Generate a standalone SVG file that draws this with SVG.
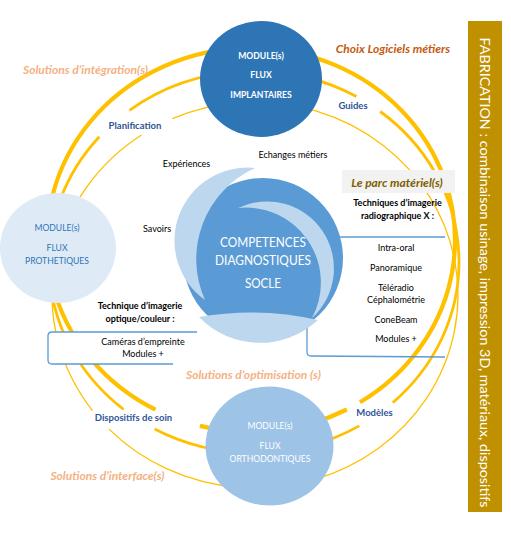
<svg xmlns="http://www.w3.org/2000/svg" width="511" height="540" viewBox="0 0 511 540">
<style>
text{font-family:Lato,"Liberation Sans",sans-serif;text-anchor:middle}
.arc{fill:none;stroke:#FFC000}
.a1{stroke-width:4.2}
.a2{stroke-width:2.8}
.a3{stroke-width:1.3}
.brk{stroke:#5B9BD5;stroke-width:1.3}
.blk{font-size:9px;fill:#000}
.bb{font-size:9px;fill:#000;font-weight:bold}
.lab{font-size:9.5px;fill:#2F5597;font-weight:bold}
.sol{font-size:12px;fill:#F4B183;font-weight:bold;font-style:italic}
.mw{font-size:8.6px;fill:#fff;font-weight:bold}
.mb{font-size:8.6px;fill:#2E75B6}
.mo{font-size:8.6px;fill:#fff}
.ctr{font-size:14px;fill:#fff}
.light{fill:#BDD7EE}
</style>
<g id="connectors">
<path class="arc a1" d="M155.5,409.7 A204,192 0 1 1 360.0,402.3 M346.8,409.5 A204,192 0 0 1 199.9,425.9"/>
<path class="arc a2" d="M123.6,409.4 A205,191 0 0 1 99.3,136.7 M129.5,110.3 A205,191 0 0 1 356.5,96.6 M380.2,111.5 A205,191 0 0 1 392.8,402.6 M359.3,425.9 A205,191 0 0 1 154.6,429.0"/>
<path class="arc a3" d="M92.5,410.6 A203,193 0 0 1 141.5,135.0 M172.4,118.7 A203,193 0 1 1 109.0,429.1"/>
</g>
<g id="bracket-optique">
<path d="M197,332 L52,332 Q48,332 48,336 L48,360 Q48,364 52,364 L173,364" fill="#fff" class="brk"/>
<text class="blk" x="143" y="344.5">Caméras d’empreinte</text>
<text class="blk" x="143" y="356.5">Modules +</text>
</g>
<g id="bracket-radio">
<path d="M445,237 L311,237 Q307,237 307,241 L307,352 Q307,356 311,356 L445,357" fill="none" class="brk"/>
<text class="blk" x="396" y="250.5">Intra-oral</text>
<text class="blk" x="396" y="270.5">Panoramique</text>
<text class="blk" x="396" y="290.5">Téléradio</text>
<text class="blk" x="396" y="302.5">Céphalométrie</text>
<text class="blk" x="396" y="322.5">ConeBeam</text>
<text class="blk" x="396" y="341.5">Modules +</text>
</g>
<g id="parc">
<rect x="342" y="170" width="113" height="23" fill="#F2F2F2"/>
<text x="397" y="186.5" style="font-size:12px;fill:#7F6000;font-weight:bold;font-style:italic">Le parc matériel(s)</text>
</g>
<g id="module-implantaires">
<ellipse cx="261" cy="79" rx="61" ry="58" fill="#2E75B6"/>
<text class="mw" x="261" y="59">MODULE(s)</text>
<text class="mw" x="261" y="78">FLUX</text>
<text class="mw" x="261" y="98">IMPLANTAIRES</text>
</g>
<g id="module-prothetiques">
<ellipse cx="58" cy="248" rx="58" ry="55" fill="#DEEBF7"/>
<text class="mb" x="57" y="231">MODULE(s)</text>
<text class="mb" x="57" y="251">FLUX</text>
<text class="mb" x="57" y="264">PROTHETIQUES</text>
</g>
<g id="module-orthodontiques">
<ellipse cx="269.5" cy="446" rx="64" ry="59.5" fill="#9DC3E6"/>
<text class="mo" x="270" y="429">MODULE(s)</text>
<text class="mo" x="270" y="449">FLUX</text>
<text class="mo" x="270" y="462">ORTHODONTIQUES</text>
</g>
<g id="socle">
<circle cx="263" cy="258" r="80" fill="#5B9BD5"/>
<path class="light" d="M255,168 A73,73 0 0 0 205,300 A100,100 0 0 1 255,168 Z"/>
<path class="light" d="M199,317 A85,85 0 0 0 318,320 A300,300 0 0 0 199,317 Z"/>
<path class="light" d="M238,208 A67,67 0 0 1 312,318 A75,75 0 0 0 238,208 Z"/>
<text class="ctr" x="263" y="247" textLength="86" lengthAdjust="spacingAndGlyphs">COMPETENCES</text>
<text class="ctr" x="263" y="265" textLength="96" lengthAdjust="spacingAndGlyphs">DIAGNOSTIQUES</text>
<text class="ctr" x="263" y="288" textLength="36" lengthAdjust="spacingAndGlyphs">SOCLE</text>
</g>
<g id="labels">
<text x="393" y="53" style="font-size:12px;fill:#C55A11;font-weight:bold;font-style:italic">Choix Logiciels métiers</text>
<text class="sol" x="85.5" y="74">Solutions d’intégration(s)</text>
<text class="sol" x="253.5" y="379">Solutions d’optimisation (s)</text>
<text class="sol" x="107.5" y="480">Solutions d’interface(s)</text>
<text class="lab" x="135" y="128.5">Planification</text>
<text class="lab" x="353" y="108.5">Guides</text>
<text class="lab" x="133.5" y="420.5">Dispositifs de soin</text>
<text class="lab" x="374.5" y="415.5">Modèles</text>
<text class="blk" x="186.5" y="167">Expériences</text>
<text class="blk" x="293" y="158">Echanges métiers</text>
<text class="blk" x="157" y="232">Savoirs</text>
<text class="bb" x="140" y="308.5">Technique d’imagerie</text>
<text class="bb" x="140" y="321.5">optique/couleur :</text>
<text class="bb" x="397.5" y="205.5">Techniques d’imagerie</text>
<text class="bb" x="397.5" y="218.5">radiographique X :</text>
</g>
<g id="fabrication">
<rect x="468" y="21" width="34" height="491" fill="#BF9000"/>
<text transform="translate(485,272.5) rotate(90)" x="0" y="5" textLength="470" lengthAdjust="spacingAndGlyphs" style="font-size:14px;fill:#fff">FABRICATION : combinaison usinage, impression 3D, matériaux, dispositifs</text>
</g>
</svg>
